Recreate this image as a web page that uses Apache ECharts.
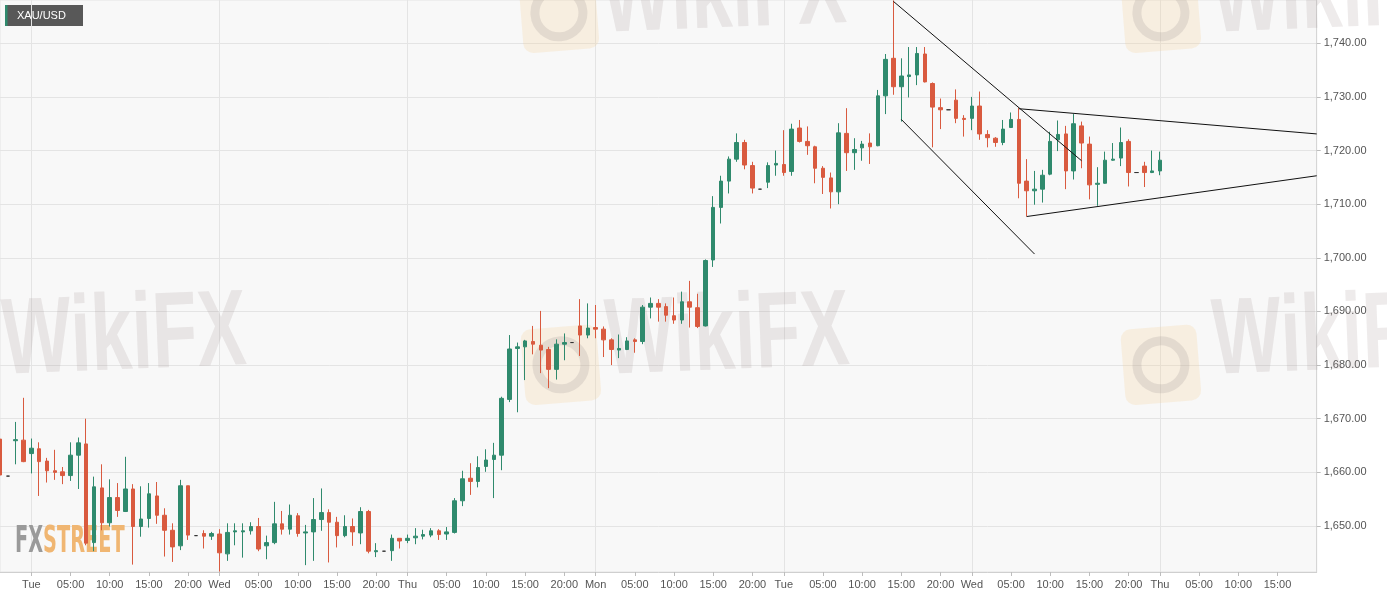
<!DOCTYPE html>
<html>
<head>
<meta charset="utf-8">
<script src="https://cdn.jsdelivr.net/npm/echarts@6/dist/echarts.min.js"></script>
<style>
html,body{margin:0;padding:0;background:#fff;}
#chart{width:1387px;height:598px;}
</style>
</head>
<body>
<div id="chart"></div>
<script>
// ---- data ----
const dayNames = ['Mon', 'Tue', 'Wed', 'Thu', 'Mon', 'Tue', 'Wed', 'Thu'];
const startHour = 20;      // first slot: Mon 20:00
const slotCount = 169;     // hourly slots up to Thu 20:00

const opens = [1666.2,1659.3,1665.9,1666.0,1663.5,1664.4,1662.1,1660.3,1660.1,1659.4,
1663.2,1665.3,1646.9,1657.1,1650.6,1655.3,1652.7,1656.9,1649.9,1651.4,
1655.6,1652.0,1649.2,1646.3,1657.5,1648.2,1648.6,1648.1,1648.5,1644.8,
1648.9,1648.9,1649.1,1649.9,1646.3,1646.9,1650.4,1649.4,1651.9,1648.7,
1648.9,1651.2,1652.5,1650.7,1648.2,1649.9,1648.7,1652.7,1645.2,1645.3,
1645.4,1647.7,1647.3,1647.8,1648.1,1648.3,1649.1,1648.5,1648.8,1654.7,
1658.9,1658.3,1661.1,1662.4,1663.2,1673.6,1683.1,1683.4,1684.4,1683.7,
1682.9,1679.2,1683.9,1684.2,1687.3,1685.6,1687.0,1686.7,1684.7,1682.8,
1682.9,1684.7,1684.4,1690.8,1691.5,1690.9,1689.2,1688.4,1691.8,1690.7,
1687.3,1699.6,1709.4,1714.3,1718.4,1721.5,1717.2,1712.8,1714.1,1717.3,
1717.4,1716.1,1724.2,1721.7,1720.7,1716.7,1714.9,1712.3,1723.2,1719.6,
1720.5,1721.4,1720.9,1730.2,1737.2,1731.9,1733.8,1734.1,1738.0,1732.5,
1728.0,1727.6,1729.4,1726.0,1726.0,1728.3,1723.0,1722.3,1721.5,1724.3,
1725.8,1714.3,1712.5,1712.8,1715.6,1722.0,1723.1,1716.2,1724.6,1721.2,
1713.7,1713.9,1718.2,1718.6,1721.7,1715.9,1717.1,1715.9,1716.2];
const highs = [1667.5,1659.3,1669.4,1673.9,1666.3,1665.6,1662.7,1664.2,1661.0,1665.6,
1666.5,1670.0,1659.2,1661.5,1658.7,1658.0,1662.9,1657.8,1657.4,1658.0,
1658.2,1653.3,1650.5,1658.6,1657.5,1648.2,1649.2,1648.9,1649.4,1650.5,
1650.5,1650.5,1650.7,1651.5,1648.2,1654.5,1652.8,1654.0,1652.4,1650.2,
1655.2,1657.0,1653.1,1651.7,1652.0,1651.4,1653.5,1653.0,1646.8,1645.3,
1648.4,1647.7,1648.4,1649.6,1649.3,1649.6,1649.4,1649.8,1655.2,1660.3,
1661.7,1663.0,1664.3,1665.5,1674.1,1685.6,1684.2,1684.7,1687.3,1690.1,
1683.4,1684.8,1685.9,1684.2,1692.3,1691.5,1691.2,1687.2,1685.0,1685.7,
1685.2,1685.0,1691.2,1692.6,1692.3,1691.5,1692.6,1693.7,1695.7,1693.3,
1699.7,1711.5,1715.3,1718.9,1723.2,1722.0,1717.9,1712.8,1717.8,1720.0,
1723.8,1725.0,1725.7,1724.5,1720.9,1717.1,1715.9,1725.1,1727.9,1722.3,
1721.8,1723.2,1731.3,1738.0,1748.0,1737.2,1739.3,1739.3,1739.3,1732.7,
1729.7,1727.6,1731.4,1726.6,1730.0,1731.0,1723.8,1722.5,1725.7,1727.1,
1727.9,1718.4,1716.2,1716.4,1723.5,1725.6,1724.6,1726.8,1725.4,1722.6,
1716.9,1719.8,1721.4,1724.3,1722.1,1715.9,1717.9,1720.0,1719.8];
const lows = [1655.2,1659.3,1661.5,1661.9,1659.8,1655.6,1658.1,1658.6,1657.8,1658.4,
1656.9,1646.4,1645.3,1649.2,1649.9,1651.7,1652.6,1642.8,1648.0,1649.7,
1650.4,1644.3,1643.3,1645.5,1647.4,1648.2,1645.8,1647.4,1641.5,1643.5,
1646.4,1644.1,1648.4,1645.3,1643.8,1646.6,1648.4,1648.4,1648.0,1642.7,
1643.5,1649.1,1643.2,1646.0,1647.9,1646.3,1646.6,1644.9,1644.2,1645.3,
1643.5,1645.8,1646.8,1646.6,1647.5,1647.9,1647.4,1647.4,1648.6,1653.7,
1655.8,1657.2,1660.1,1655.2,1660.4,1673.1,1671.2,1677.2,1682.0,1678.5,
1675.7,1677.3,1680.9,1684.2,1681.7,1685.0,1685.0,1681.5,1680.0,1681.3,
1682.8,1682.3,1683.9,1688.7,1688.1,1688.1,1687.7,1687.7,1687.0,1686.9,
1687.2,1698.3,1706.4,1712.0,1717.9,1716.5,1712.0,1712.8,1713.0,1715.3,
1715.3,1715.3,1721.5,1719.2,1713.9,1711.9,1709.2,1710.0,1716.2,1716.4,
1718.1,1717.5,1720.8,1726.8,1730.4,1725.4,1729.9,1732.2,1732.7,1720.6,
1724.0,1727.6,1725.1,1722.6,1723.8,1722.0,1720.6,1720.7,1721.0,1724.2,
1711.1,1707.7,1709.9,1710.3,1715.4,1719.9,1712.8,1714.6,1716.7,1710.9,
1709.7,1713.8,1718.1,1717.1,1713.3,1715.9,1713.2,1715.8,1715.4];
const closes = [1659.5,1659.3,1666.1,1662.0,1664.5,1662.0,1660.3,1660.0,1659.4,1663.2,
1665.5,1646.8,1657.3,1650.6,1655.3,1652.9,1656.9,1649.9,1651.3,1656.0,
1652.0,1649.2,1646.1,1657.5,1648.3,1648.2,1648.1,1648.6,1645.0,1648.8,
1649.1,1649.1,1649.9,1645.7,1646.9,1650.4,1649.4,1652.0,1648.6,1648.9,
1651.2,1652.5,1650.7,1648.2,1649.9,1648.9,1652.7,1645.3,1645.4,1645.3,
1647.7,1647.2,1647.7,1648.1,1648.4,1649.1,1648.4,1648.9,1654.7,1658.8,
1658.3,1660.9,1662.3,1663.2,1673.8,1683.0,1683.4,1684.5,1683.9,1682.8,
1679.2,1683.9,1684.2,1684.2,1685.6,1686.9,1686.7,1684.7,1682.9,1683.1,
1684.5,1684.4,1690.8,1691.5,1690.8,1689.3,1688.4,1691.8,1690.8,1687.2,
1699.5,1709.4,1714.3,1718.4,1721.5,1717.3,1713.0,1712.8,1717.2,1717.6,
1715.9,1724.0,1721.7,1720.9,1716.7,1715.0,1712.3,1723.3,1719.6,1720.2,
1721.2,1720.7,1730.2,1737.0,1731.9,1733.9,1734.1,1738.1,1732.8,1728.1,
1727.6,1727.6,1726.0,1725.8,1728.3,1723.1,1722.4,1721.5,1724.0,1725.8,
1713.9,1712.5,1712.8,1715.4,1721.7,1723.0,1716.2,1725.0,1721.4,1713.6,
1713.9,1718.2,1718.4,1721.5,1715.9,1715.9,1715.9,1716.2,1718.2];

const priceTicks = [1650, 1660, 1670, 1680, 1690, 1700, 1710, 1720, 1730, 1740];
const priceMin = 1641.42, priceMax = 1748.07;

// trend lines: [slotIndex, price] pairs
const channelUpper = [[114, 1747.8], [138, 1718.1]];
const channelLower = [[115, 1725.8], [132, 1700.7]];
const triangleUpper = [[130, 1727.8], [168, 1723.1]];
const triangleLower = [[131, 1707.7], [168, 1715.3]];

// ---- build ----
const slotHours = [], categories = [];
for (let k = 0; k < slotCount; k++) {
  const t = startHour + k, d = Math.floor(t / 24), h = t % 24;
  slotHours.push(h);
  categories.push(h === 0 ? dayNames[d] : (h < 10 ? '0' + h : '' + h) + ':00');
}
const candles = opens.map((o, i) => [o, closes[i], lows[i], highs[i]]);
while (candles.length < slotCount) candles.push('-');

const green = '#2f8a6d', red = '#d95a3f';
const labelEvery5 = (i) => i > 0 && i < slotCount - 1 && slotHours[i] % 5 === 0;
const dayStart = (i) => slotHours[i] === 0;
const fmtPrice = (v) => v.toLocaleString('en-US', {minimumFractionDigits: 2, maximumFractionDigits: 2});

const wmText = (x, y) => ({
  type: 'text', x: x, y: y, z: 1, scaleX: 0.68, rotation: 0.04, silent: true,
  style: {text: 'WikiFX', font: 'bold 108px "Liberation Sans"', fill: 'rgba(140,120,120,0.15)'}
});
const wmLogo = (x, y) => ({
  type: 'group', x: x, y: y, z: 1, rotation: 0.08, silent: true,
  children: [
    {type: 'rect', shape: {x: 0, y: 0, width: 76, height: 76, r: 10}, style: {fill: 'rgba(245,205,140,0.22)'}, z: 1},
    {type: 'circle', shape: {cx: 38, cy: 38, r: 24}, style: {fill: 'none', stroke: 'rgba(150,140,140,0.2)', lineWidth: 9}, z: 1}
  ]
});

const chart = echarts.init(document.getElementById('chart'), null, {renderer: 'canvas'});
chart.setOption({
  animation: false,
  backgroundColor: '#ffffff',
  textStyle: {fontFamily: '"Liberation Sans", Arial, sans-serif'},
  grid: {left: 0, right: 70.3, top: 0, bottom: 26, outerBoundsMode: 'none', containLabel: false,
         show: true, backgroundColor: '#f8f8f8', borderColor: '#e4e4e4', borderWidth: 1},
  xAxis: {
    type: 'category', data: categories, boundaryGap: false,
    axisLine: {lineStyle: {color: '#cfcfcf'}},
    axisTick: {interval: labelEvery5, length: 4, lineStyle: {color: '#bdbdbd'}},
    axisLabel: {interval: labelEvery5, color: '#555', fontSize: 11, margin: 7},
    splitLine: {show: true, interval: dayStart, lineStyle: {color: '#e4e4e4'}}
  },
  yAxis: {
    type: 'value', position: 'right', min: priceMin, max: priceMax,
    axisLine: {show: true, lineStyle: {color: '#d6d6d6'}},
    axisTick: {show: true, length: 4, lineStyle: {color: '#bdbdbd'}, customValues: priceTicks},
    axisLabel: {customValues: priceTicks, color: '#555', fontSize: 11, margin: 7, formatter: fmtPrice},
    splitLine: {show: true, lineStyle: {color: '#e4e4e4'}}
  },
  graphic: [
    wmText(0, 290), wmText(603, 290), wmText(1210, 290), wmText(600, -52), wmText(1210, -52),
    wmLogo(520, 330), wmLogo(1120, 330), wmLogo(518, -22), wmLogo(1120, -22),
    {type: 'text', x: 15, y: 524, z: 1, scaleX: 0.58, silent: true,
     style: {text: '{a|FX}{b|STREET}', rich: {
       a: {font: 'bold 37px "DejaVu Sans Condensed"', fill: '#9a9a9a'},
       b: {font: 'bold 37px "DejaVu Sans Condensed"', fill: '#f0b672'}}}},
    {type: 'group', x: 5, y: 5, z: 10, children: [
      {type: 'rect', shape: {x: 0, y: 0, width: 78, height: 21}, style: {fill: '#585858'}},
      {type: 'rect', shape: {x: 0, y: 0, width: 2.5, height: 21}, style: {fill: '#2f8a6d'}},
      {type: 'text', x: 12, y: 10.5, style: {text: 'XAU/USD', fill: '#fff', font: '11px "Liberation Sans"', verticalAlign: 'middle'}}
    ]}
  ],
  series: [{
    type: 'candlestick', data: candles, barWidth: 4, z: 3,
    itemStyle: {color: green, color0: red, borderColor: green, borderColor0: red, borderColorDoji: '#333', borderWidth: 1},
    markLine: {
      silent: true, symbol: ['none', 'none'], animation: false, label: {show: false},
      lineStyle: {color: '#111', width: 1, type: 'solid'},
      emphasis: {disabled: true},
      data: [channelUpper, channelLower, triangleUpper, triangleLower].map(l => [{coord: l[0]}, {coord: l[1]}])
    }
  }]
});
</script>
</body>
</html>
